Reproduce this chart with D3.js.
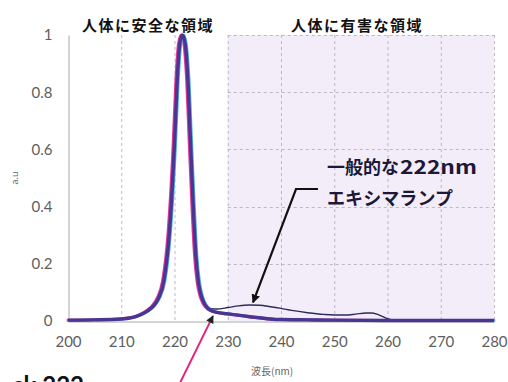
<!DOCTYPE html>
<html><head><meta charset="utf-8">
<script src="https://cdn.jsdelivr.net/npm/d3@7"></script>
<style>
html,body{margin:0;padding:0;background:#fff;}
svg{display:block;}
</style></head>
<body>
<svg id="c" width="508" height="382"></svg>
<script>
// ---- data ----
const xTicks = [200,210,220,230,240,250,260,270,280];
const yTicks = [0,0.2,0.4,0.6,0.8,1];
const yTickLabels = ["0","0.2","0.4","0.6","0.8","1"];
// filtered 222nm lamp (thick)
const mainWl  = [200,205,210,212,213,214,215,216,217,218,219,220,220.5,221,221.5,222,222.5,223,223.5,224,224.5,225,225.5,226,227,228,230,233,235,238,240,245,250,260,270,280];
const mainVal = [0.003,0.004,0.007,0.012,0.017,0.025,0.036,0.052,0.08,0.14,0.3,0.62,0.84,0.97,1.0,0.97,0.85,0.63,0.41,0.23,0.135,0.09,0.065,0.05,0.036,0.03,0.025,0.018,0.013,0.007,0.005,0.004,0.003,0.002,0.002,0.002];
// typical 222nm excimer lamp (thin)
const thinWl  = [200,205,210,212,213,214,215,216,217,218,219,220,220.5,221,221.5,222,222.5,223,223.5,224,224.5,225,225.5,226,227,228,230,232,234,236,238,240,242,245,248,250,252,254,256,257,258,259,260,261,262,270,280];
const thinVal = [0.003,0.004,0.007,0.012,0.017,0.025,0.036,0.052,0.08,0.14,0.3,0.62,0.84,0.97,1.0,0.97,0.85,0.63,0.41,0.23,0.135,0.09,0.065,0.05,0.043,0.042,0.047,0.053,0.056,0.055,0.05,0.044,0.037,0.029,0.023,0.021,0.021,0.024,0.028,0.028,0.024,0.016,0.008,0.003,0.001,0.001,0.001];
const titleSafe = "人体に安全な領域";
const titleHarm = "人体に有害な領域";
const calloutA = "一般的な";
const calloutB = "222nm";
const calloutC = "エキシマランプ";
const xTitle = "波長(nm)";
const yTitle = "a.u";

// ---- chart ----
const svg = d3.select("#c");
const x = d3.scaleLinear().domain([200,280]).range([68,494]);
const y = d3.scaleLinear().domain([0,1]).range([321,35]);
const num = "Lato, 'Open Sans', sans-serif";
const jp = "'Noto Sans CJK JP', sans-serif";

// harmful region shading
svg.append("rect").attr("x",x(230)).attr("y",y(1)).attr("width",x(280)-x(230)).attr("height",y(0)-y(1)).attr("fill","#f2edf9");

// grid
const g = svg.append("g").attr("stroke","#bdb8c3").attr("stroke-width",1).attr("stroke-dasharray","3,3");
[210,220,230,240,250,260,270,280].forEach(v=>{
  g.append("line").attr("x1",x(v)+0.5).attr("x2",x(v)+0.5).attr("y1",y(1)).attr("y2",y(0));
});
[0.2,0.4,0.6,0.8,1].forEach(v=>{
  g.append("line").attr("x1",x(230)).attr("x2",x(280)).attr("y1",Math.round(y(v))+0.5).attr("y2",Math.round(y(v))+0.5);
});

// axes
const xAxis = d3.axisBottom(x).tickValues(xTicks).tickSize(0).tickPadding(15).tickFormat(d3.format("d"));
const ax = svg.append("g").attr("transform",`translate(0,${y(0)+0.5})`).call(xAxis);
ax.select(".domain").attr("stroke","#a8a8a8");
ax.selectAll("text").attr("font-family",num).attr("font-size",15).attr("fill","#5e5e5e");
const yAxis = d3.axisLeft(y).tickValues(yTicks).tickSize(0).tickPadding(16).tickFormat((d,i)=>yTickLabels[i]);
const ay = svg.append("g").attr("transform",`translate(${x(200)+0.5},0)`).call(yAxis);
ay.select(".domain").attr("stroke","#a8a8a8");
ay.selectAll("text").attr("font-family",num).attr("font-size",15).attr("fill","#5e5e5e");

// axis titles
svg.append("text").attr("x",251).attr("y",375).attr("font-family",jp).attr("font-size",10).attr("fill","#666").text(xTitle);
svg.append("text").attr("transform","translate(18,178) rotate(-90)").attr("text-anchor","middle").attr("font-family",num).attr("font-size",10).attr("fill","#666").text(yTitle);

// region titles
svg.append("text").attr("x",148).attr("y",31).attr("text-anchor","middle").attr("font-family",jp).attr("font-weight","bold").attr("font-size",15).attr("letter-spacing",1.5).attr("fill","#111").text(titleSafe);
svg.append("text").attr("x",357).attr("y",31).attr("text-anchor","middle").attr("font-family",jp).attr("font-weight","bold").attr("font-size",15).attr("letter-spacing",1.5).attr("fill","#111").text(titleHarm);

// curves
const line = d3.line().x(d=>x(d[0])).y(d=>y(d[1])).curve(d3.curveMonotoneX);
const thinData = thinWl.map((w,i)=>[w,thinVal[i]]);
const mainData = mainWl.map((w,i)=>[w,mainVal[i]]);
svg.append("path").datum(thinData).attr("d",line).attr("fill","none").attr("stroke","#2f2a5a").attr("stroke-width",1.4);
svg.append("path").datum(mainData).attr("d",line).attr("fill","none").attr("stroke","#e0389a").attr("stroke-width",3).attr("transform","translate(-1.3,0)");
svg.append("path").datum(mainData).attr("d",line).attr("fill","none").attr("stroke","#4fb0dc").attr("stroke-width",2.5).attr("transform","translate(1.3,0)");
svg.append("path").datum(mainData).attr("d",line).attr("fill","none").attr("stroke","#4a3592").attr("stroke-width",3.4);

// arrow markers
const defs = svg.append("defs");
defs.append("marker").attr("id","ah").attr("viewBox","0 0 10 10").attr("refX",9).attr("refY",5)
  .attr("markerWidth",4).attr("markerHeight",4).attr("orient","auto")
  .append("path").attr("d","M0,0 L10,5 L0,10 Z").attr("fill","#111");
defs.append("marker").attr("id","ahp").attr("viewBox","0 0 10 10").attr("refX",9).attr("refY",5)
  .attr("markerWidth",4).attr("markerHeight",4).attr("orient","auto")
  .append("path").attr("d","M0,0 L10,5 L0,10 Z").attr("fill","#222");

// callout
svg.append("polyline").attr("points",`318,189 296,189 253,${y(0.058)-2}`).attr("fill","none").attr("stroke","#111").attr("stroke-width",2.2).attr("marker-end","url(#ah)");
svg.append("text").attr("x",327).attr("y",174).attr("font-family",jp).attr("font-weight","bold").attr("font-size",18).attr("fill","#1c1838").text(calloutA);
svg.append("text").attr("x",400).attr("y",174).attr("font-family",jp).attr("font-weight","bold").attr("font-size",18.5).attr("fill","#1c1838").attr("textLength",77).attr("lengthAdjust","spacingAndGlyphs").text(calloutB);
svg.append("text").attr("x",327).attr("y",205).attr("font-family",jp).attr("font-weight","bold").attr("font-size",18).attr("fill","#1c1838").attr("textLength",126).attr("lengthAdjust","spacing").text(calloutC);

// pink arrow
svg.append("line").attr("x1",179).attr("y1",385).attr("x2",213).attr("y2",y(0.018)).attr("stroke","#e2267f").attr("stroke-width",2).attr("marker-end","url(#ahp)");

// cut-off bold label at bottom-left (cut in the reference too)
svg.append("text").attr("x",84).attr("y",394).attr("text-anchor","end").attr("font-family",num).attr("font-weight","bold").attr("font-size",24).attr("fill","#111").text("ck 222");
</script>
</body></html>
